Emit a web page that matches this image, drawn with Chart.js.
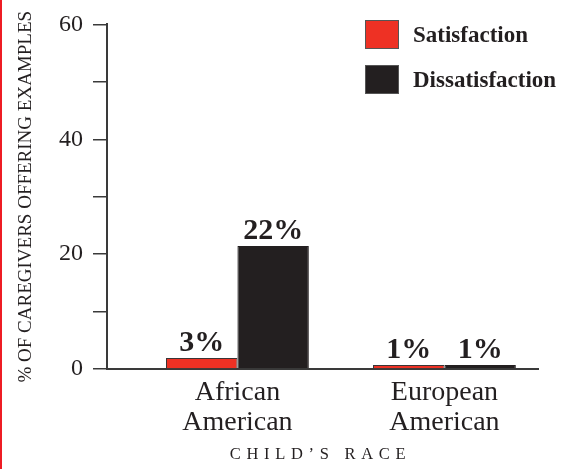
<!DOCTYPE html>
<html lang="en">
<head>
    <meta charset="UTF-8">
    <title>Caregivers Offering Examples by Child's Race</title>
    <script src="https://cdn.jsdelivr.net/npm/chart.js"></script>
    <style>
        body {
            margin: 0;
            background: #fff;
            font-family: 'Liberation Serif', serif;
            color: #231f20;
        }
        .wrap {
            position: relative;
            width: 561px;
            height: 469px;
            border-left: 2px solid #ee1c24;
            box-sizing: border-box;
        }
        .legend {
            position: absolute;
            left: 363px;
            top: 20px;
        }
        .legend-item {
            display: flex;
            align-items: center;
            height: 29px;
            margin-bottom: 16px;
            font-weight: bold;
            font-size: 23px;
        }
        .legend-box {
            width: 32px;
            height: 27px;
            border: 1px solid #555;
            margin-right: 14px;
        }
        .x-title {
            position: absolute;
            left: 103px;
            width: 431px;
            top: 444px;
            text-align: center;
            font-size: 16.5px;
            letter-spacing: 5.7px;
        }
    </style>
</head>
<body>
    <div class="wrap">
        <canvas id="raceChart"></canvas>
        <div class="legend" id="legend"></div>
        <div class="x-title">CHILD’S RACE</div>
    </div>
    <script>
        const categories = ['African American', 'European American'];
        const seriesNames = ['Satisfaction', 'Dissatisfaction'];
        const seriesColors = ['#ee3124', '#231f20'];
        // bar heights as drawn; the printed labels are rounded differently
        const satisfaction = [1.9, 0.7];
        const dissatisfaction = [21.4, 0.7];
        const satisfactionLabels = ['3%', '1%'];
        const dissatisfactionLabels = ['22%', '1%'];
        const yTicks = [0, 20, 40, 60];

        const serif = "'Liberation Serif', 'Times New Roman', serif";

        // draws the percent above each bar
        const valueLabels = {
            id: 'valueLabels',
            afterDatasetsDraw(chart) {
                const ctx = chart.ctx;
                ctx.save();
                ctx.font = 'bold 30px ' + serif;
                ctx.fillStyle = '#231f20';
                ctx.textAlign = 'center';
                ctx.textBaseline = 'alphabetic';
                chart.data.datasets.forEach((ds, di) => {
                    chart.getDatasetMeta(di).data.forEach((bar, i) => {
                        ctx.fillText(ds.valueLabels[i], bar.x, bar.y - 7);
                    });
                });
                ctx.restore();
            }
        };

        const toPoints = (arr) => arr.map((v, i) => ({ x: i, y: v }));

        const chart = new Chart(document.getElementById('raceChart'), {
            type: 'bar',
            data: {
                datasets: [{
                    label: seriesNames[0],
                    data: toPoints(satisfaction),
                    valueLabels: satisfactionLabels,
                    backgroundColor: seriesColors[0],
                    borderColor: '#3a3536',
                    borderWidth: 1
                }, {
                    label: seriesNames[1],
                    data: toPoints(dissatisfaction),
                    valueLabels: dissatisfactionLabels,
                    backgroundColor: seriesColors[1],
                    borderColor: '#231f20',
                    borderWidth: 1
                }]
            },
            options: {
                responsive: true,
                maintainAspectRatio: false,
                animation: false,
                layout: {
                    padding: { left: 0, top: 22, right: 23, bottom: 0 }
                },
                categoryPercentage: 0.69,
                barPercentage: 1,
                plugins: {
                    legend: { display: false },
                    tooltip: { enabled: false }
                },
                scales: {
                    x: {
                        type: 'linear',
                        min: -0.63,
                        max: 1.452,
                        offset: false,
                        bounds: 'data',
                        afterBuildTicks: (scale) => {
                            scale.ticks = categories.map((c, i) => ({ value: i }));
                        },
                        afterFit: (scale) => { scale.height = 100; },
                        grid: { display: false, offset: false },
                        border: { display: true, color: '#3a3a3a', width: 2 },
                        ticks: {
                            autoSkip: false,
                            maxRotation: 0,
                            padding: 1,
                            color: '#231f20',
                            font: { family: serif, size: 28, lineHeight: 1.07 },
                            callback: (value) => categories[value] ? categories[value].split(' ') : ''
                        }
                    },
                    y: {
                        min: 0,
                        max: 60,
                        afterFit: (scale) => { scale.width = 105; },
                        grid: {
                            drawOnChartArea: false,
                            drawTicks: true,
                            tickLength: 14,
                            color: '#3a3a3a',
                            lineWidth: 1.5
                        },
                        border: { display: true, color: '#3a3a3a', width: 2 },
                        ticks: {
                            stepSize: 10,
                            padding: 10,
                            color: '#231f20',
                            font: { family: serif, size: 24 },
                            callback: (value) => yTicks.includes(value) ? value : ''
                        },
                        title: {
                            display: true,
                            text: '% OF CAREGIVERS OFFERING EXAMPLES',
                            color: '#231f20',
                            font: { family: serif, size: 19 },
                            padding: { top: 13, bottom: 0 }
                        }
                    }
                }
            },
            plugins: [valueLabels]
        });

        // legend built from the datasets
        const legend = document.getElementById('legend');
        chart.data.datasets.forEach((ds) => {
            const item = document.createElement('div');
            item.className = 'legend-item';
            const box = document.createElement('span');
            box.className = 'legend-box';
            box.style.background = ds.backgroundColor;
            const text = document.createElement('span');
            text.textContent = ds.label;
            item.appendChild(box);
            item.appendChild(text);
            legend.appendChild(item);
        });
    </script>
</body>
</html>
